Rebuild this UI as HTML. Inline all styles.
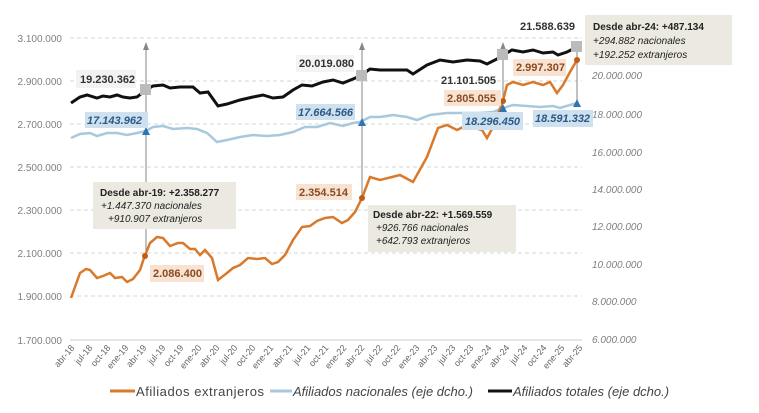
<!DOCTYPE html>
<html><head><meta charset="utf-8"><style>
html,body{margin:0;padding:0;background:#fff;}
svg{display:block;font-family:"Liberation Sans",sans-serif;}
.ax{font-size:10px;fill:#808080;}
.axr{font-size:10px;fill:#808080;font-style:italic;}
.tk{font-size:9px;fill:#666;}
.lb{font-size:11px;font-weight:bold;fill:#333;}
.lbb{font-size:11px;font-weight:bold;font-style:italic;fill:#2a5a8a;}
.lbo{font-size:11px;font-weight:bold;fill:#8a4a20;}
.an{font-size:10px;fill:#222;}
</style></head><body>
<svg width="759" height="413" viewBox="0 0 759 413">
<g stroke="#d4d4d4" stroke-dasharray="4,3" stroke-width="1">
<line x1="70" y1="38" x2="582" y2="38"/><line x1="70" y1="81" x2="582" y2="81"/>
<line x1="70" y1="124" x2="582" y2="124"/><line x1="70" y1="167" x2="582" y2="167"/>
<line x1="70" y1="210" x2="582" y2="210"/><line x1="70" y1="253" x2="582" y2="253"/>
<line x1="70" y1="296" x2="582" y2="296"/>
</g>
<line x1="70" y1="340" x2="582" y2="340" stroke="#ccc"/>
<g class="ax" text-anchor="end">
<text x="62" y="42">3.100.000</text><text x="62" y="85">2.900.000</text><text x="62" y="128">2.700.000</text>
<text x="62" y="171">2.500.000</text><text x="62" y="214">2.300.000</text><text x="62" y="257">2.100.000</text>
<text x="62" y="300">1.900.000</text><text x="62" y="344">1.700.000</text>
</g>
<g class="axr">
<text x="592" y="79">20.000.000</text><text x="592" y="118">18.000.000</text><text x="592" y="156">16.000.000</text>
<text x="592" y="193">14.000.000</text><text x="592" y="230">12.000.000</text><text x="592" y="268">10.000.000</text>
<text x="592" y="305">8.000.000</text><text x="592" y="343">6.000.000</text>
</g>
<g class="tk" text-anchor="end">
<text transform="translate(75,348) rotate(-50)">abr-18</text>
<text transform="translate(93,348) rotate(-50)">jul-18</text>
<text transform="translate(111,348) rotate(-50)">oct-18</text>
<text transform="translate(129,348) rotate(-50)">ene-19</text>
<text transform="translate(147,348) rotate(-50)">abr-19</text>
<text transform="translate(166,348) rotate(-50)">jul-19</text>
<text transform="translate(184,348) rotate(-50)">oct-19</text>
<text transform="translate(202,348) rotate(-50)">ene-20</text>
<text transform="translate(220,348) rotate(-50)">abr-20</text>
<text transform="translate(238,348) rotate(-50)">jul-20</text>
<text transform="translate(256,348) rotate(-50)">oct-20</text>
<text transform="translate(274,348) rotate(-50)">ene-21</text>
<text transform="translate(293,348) rotate(-50)">abr-21</text>
<text transform="translate(311,348) rotate(-50)">jul-21</text>
<text transform="translate(329,348) rotate(-50)">oct-21</text>
<text transform="translate(347,348) rotate(-50)">ene-22</text>
<text transform="translate(365,348) rotate(-50)">abr-22</text>
<text transform="translate(383,348) rotate(-50)">jul-22</text>
<text transform="translate(401,348) rotate(-50)">oct-22</text>
<text transform="translate(420,348) rotate(-50)">ene-23</text>
<text transform="translate(438,348) rotate(-50)">abr-23</text>
<text transform="translate(456,348) rotate(-50)">jul-23</text>
<text transform="translate(474,348) rotate(-50)">oct-23</text>
<text transform="translate(492,348) rotate(-50)">ene-24</text>
<text transform="translate(510,348) rotate(-50)">abr-24</text>
<text transform="translate(528,348) rotate(-50)">jul-24</text>
<text transform="translate(547,348) rotate(-50)">oct-24</text>
<text transform="translate(565,348) rotate(-50)">ene-25</text>
<text transform="translate(583,348) rotate(-50)">abr-25</text>
</g>
<g stroke="#999" stroke-width="1.2" fill="#888">
<line x1="146" y1="45" x2="146" y2="255"/><polygon points="143,50 146,42 149,50" stroke="none"/>
<line x1="362" y1="45" x2="362" y2="198"/><polygon points="359,50 362,42 365,50" stroke="none"/>
<line x1="503" y1="45" x2="503" y2="101"/><polygon points="500,50 503,42 506,50" stroke="none"/>
<line x1="577" y1="45" x2="577" y2="102"/><polygon points="574,50 577,42 580,50" stroke="none"/>
</g>
<polyline fill="none" stroke="#a8c8de" stroke-width="2.5" points="71,138 80,134 90,133 97,136 107,133 117,133 127,135 137,133 146,131 153,127 163,126 173,129 187,128 197,129 207,133 217,142 227,140 240,137 253,135 267,136 280,135 293,132 305,127 317,127 330,123 343,126 353,123 360,122 370,117 380,117 393,115 407,117 417,120 430,115 447,113 463,113 480,113 493,112 503,108 513,105 527,106 540,107 553,106 560,108 577,103"/>
<polyline fill="none" stroke="#111" stroke-width="3" points="71,103 80,97 87,95 97,98 103,96 110,97 117,95 123,97 130,98 137,97 146,90 153,86 163,85 170,88 180,87 193,87 200,93 208,92 218,106 227,104 240,100 253,97 263,95 273,98 283,97 293,90 302,85 312,86 323,82 333,80 343,83 353,79 360,76 370,69 380,70 393,70 407,70 413,74 427,65 440,60 453,62 467,60 480,61 487,64 497,59 503,55 512,50 523,52 533,50 543,53 553,52 558,55 567,52 577,47"/>
<polyline fill="none" stroke="#d9792b" stroke-width="2.5" points="71,298 80,273 86,269 90,270 97,278 103,276 110,273 115,278 122,277 127,282 133,279 140,270 144,258 150,243 157,237 163,238 170,246 178,243 183,243 190,249 195,249 200,255 205,250 212,258 218,280 227,273 233,268 240,265 248,258 257,259 265,258 272,264 278,262 285,255 293,240 302,227 310,226 317,221 325,218 333,217 342,223 348,220 355,212 362,198 370,177 380,180 400,175 413,182 427,157 438,128 447,125 457,130 463,127 475,128 482,130 487,138 492,129 503,101 507,85 513,82 523,85 533,82 543,85 550,82 557,93 563,85 570,72 577,60"/>
<g fill="#bbb"><rect x="140" y="84" width="11" height="11"/><rect x="356" y="70" width="11" height="11"/><rect x="497" y="49" width="11" height="11"/><rect x="571" y="41" width="11" height="11"/></g>
<g fill="#2e75b6"><polygon points="142,135 146,127 150,135"/><polygon points="358,126 362,118 366,126"/><polygon points="499,112 503,104 507,112"/><polygon points="573,107 577,99 581,107"/></g>
<g fill="#c55a11"><circle cx="145" cy="256" r="3"/><circle cx="362" cy="198" r="3"/><circle cx="503" cy="101" r="3"/><circle cx="577" cy="60" r="3"/></g>
<rect x="76" y="70" width="60" height="18" fill="#f2f2f2"/><text class="lb" x="80" y="83">19.230.362</text>
<rect x="85" y="112" width="63" height="16" fill="#cfe1ef"/><text class="lbb" x="87" y="124">17.143.962</text>
<rect x="296" y="55" width="58" height="17" fill="#f4f4f4"/><text class="lb" x="299" y="67">20.019.080</text>
<rect x="296" y="104" width="59" height="16" fill="#cfe1ef"/><text class="lbb" x="298" y="116">17.664.566</text>
<rect x="150" y="265" width="54" height="17" fill="#f8e3d3"/><text class="lbo" x="153" y="277">2.086.400</text>
<rect x="296" y="184" width="56" height="16" fill="#f8e3d3"/><text class="lbo" x="299" y="196">2.354.514</text>
<text class="lb" x="441" y="84">21.101.505</text>
<rect x="444" y="90" width="57" height="16" fill="#f8e3d3"/><text class="lbo" x="447" y="102">2.805.055</text>
<rect x="513" y="59" width="53" height="17" fill="#f8e3d3"/><text class="lbo" x="516" y="71">2.997.307</text>
<rect x="462" y="112" width="61" height="18" fill="#cfe1ef"/><text class="lbb" x="465" y="125">18.296.450</text>
<rect x="533" y="110" width="60" height="17" fill="#cfe1ef"/><text class="lbb" x="535" y="122">18.591.332</text>
<text class="lb" x="520" y="30">21.588.639</text>
<rect x="93" y="182" width="143" height="47" fill="#ebe9e0"/>
<text class="an" x="100" y="196" font-weight="bold">Desde abr-19: +2.358.277</text>
<text class="an" x="101" y="209" font-style="italic">+1.447.370 nacionales</text>
<text class="an" x="108" y="222" font-style="italic">+910.907 extranjeros</text>
<rect x="368" y="205" width="148" height="47" fill="#ebe9e0"/>
<text class="an" x="373" y="218" font-weight="bold">Desde abr-22: +1.569.559</text>
<text class="an" x="376" y="231" font-style="italic">+926.766 nacionales</text>
<text class="an" x="376" y="244" font-style="italic">+642.793 extranjeros</text>
<rect x="585" y="15" width="147" height="50" fill="#ebe9e0"/>
<text class="an" x="593" y="30" font-weight="bold">Desde abr-24: +487.134</text>
<text class="an" x="593" y="44" font-style="italic">+294.882 nacionales</text>
<text class="an" x="593" y="58" font-style="italic">+192.252 extranjeros</text>
<line x1="110" y1="391" x2="135" y2="391" stroke="#d9792b" stroke-width="3"/>
<text x="136" y="396" font-size="13" fill="#444" textLength="128">Afiliados extranjeros</text>
<line x1="270" y1="391" x2="292" y2="391" stroke="#a8c8de" stroke-width="3"/>
<text x="293" y="396" font-size="13" fill="#444" font-style="italic">Afiliados nacionales (eje dcho.)</text>
<line x1="488" y1="391" x2="512" y2="391" stroke="#111" stroke-width="3"/>
<text x="513" y="396" font-size="13" fill="#444" font-style="italic">Afiliados totales (eje dcho.)</text>
</svg>
</body></html>
